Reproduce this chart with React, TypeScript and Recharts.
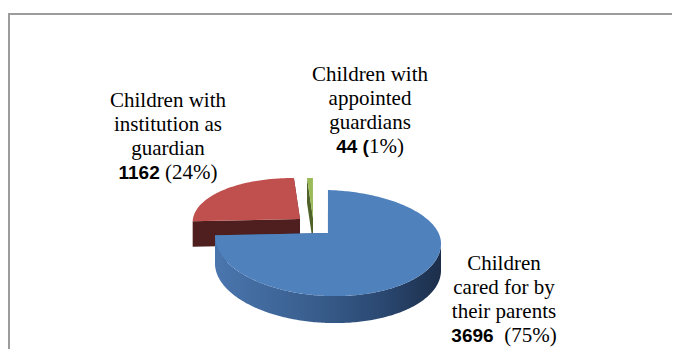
import React from "react";
import { PieChart, Pie } from "recharts";

// ---- data ----
const categories = [
  "Children with institution as guardian",
  "Children with appointed guardians",
  "Children cared for by their parents",
];
const counts = [1162, 44, 3696];
const percentLabels = ["24%", "1%", "75%"];
const labelLines = [
  ["Children with", "institution as", "guardian"],
  ["Children with", "appointed", "guardians"],
  ["Children", "cared for by", "their parents"],
];

const pieData = categories.map((name, i) => ({ name, value: counts[i] }));

// ---- styles ----
const SLICE_STYLE = [
  { top: "#c0504d", side: "#4f1e1e", cut: "#4f1e1e", dx: -28, dy: -14, s: 0.95 },
  { top: "#9bbb59", side: "#4f6228", cut: "#4f6228", dx: -15, dy: -15, s: 0.93 },
  { top: "#4f81bd", side: "url(#blueSide)", cut: "#34578a", dx: 0, dy: 0, s: 1 },
];
const RY_TOP = 50 / 113;
const RY_BOT = 56 / 113;
const DROP_BASE = 7;
const DROP_TILT = 3.5;
const DEPTH = 27;

const LABEL_POS = [
  { left: 60, top: 80 },
  { left: 262, top: 54 },
  { left: 396, top: 243 },
];

const rimPoint = (ax: number, ay: number, r: number, s: number, deg: number, depth: number) => {
  const t = (deg * Math.PI) / 180;
  const sn = Math.sin(t);
  const cs = Math.cos(t);
  const ry = (sn > 0 ? RY_TOP : RY_BOT) * r * s;
  return [ax + r * s * cs, ay + (DROP_BASE + DROP_TILT * cs) * s - ry * sn + depth * s];
};

const arcPts = (ax: number, ay: number, r: number, s: number, a1: number, a2: number, depth: number) => {
  const n = Math.max(2, Math.ceil(Math.abs(a2 - a1)));
  const pts: number[][] = [];
  for (let k = 0; k <= n; k++) {
    pts.push(rimPoint(ax, ay, r, s, a1 + ((a2 - a1) * k) / n, depth));
  }
  return pts;
};

const toPath = (pts: number[][]) =>
  pts.map((p, i) => `${i === 0 ? "M" : "L"}${p[0].toFixed(2)},${p[1].toFixed(2)}`).join(" ") + " Z";

const render3D = (props: any) => {
  const { cx, cy, outerRadius, startAngle, endAngle, index } = props;
  const st = SLICE_STYLE[index];
  const r = outerRadius;
  const s = st.s;
  const ax = cx + st.dx;
  const ay = cy + st.dy;
  const lo = Math.min(startAngle, endAngle);
  const hi = Math.max(startAngle, endAngle);

  const cuts = [startAngle, endAngle].map((a: number, k: number) => {
    const r0 = rimPoint(ax, ay, r, s, a, 0);
    const r1 = rimPoint(ax, ay, r, s, a, DEPTH);
    const pts = [[ax, ay], r0, r1, [ax, ay + DEPTH * s]];
    return <path key={`cut${k}`} d={toPath(pts)} fill={st.cut} stroke="none" />;
  });

  const windows = [
    [-180, 0],
    [180, 360],
    [-540, -360],
  ];
  const bands: any[] = [];
  windows.forEach((w, k) => {
    const a = Math.max(lo, w[0]);
    const e = Math.min(hi, w[1]);
    if (e > a) {
      const topArc = arcPts(ax, ay, r, s, a, e, 0);
      const botArc = arcPts(ax, ay, r, s, e, a, DEPTH);
      bands.push(<path key={`band${k}`} d={toPath([...topArc, ...botArc])} fill={st.side} stroke="none" />);
    }
  });

  const face = toPath([[ax, ay], ...arcPts(ax, ay, r, s, startAngle, endAngle, 0)]);

  return (
    <g key={`slice-${index}`}>
      {index === 2 && (
        <defs>
          <linearGradient id="blueSide" gradientUnits="userSpaceOnUse" x1={ax - r} y1={0} x2={ax + r} y2={0}>
            <stop offset="0" stopColor="#4a76ae" />
            <stop offset="0.45" stopColor="#385d8c" />
            <stop offset="0.75" stopColor="#2a4770" />
            <stop offset="1" stopColor="#1c2e4a" />
          </linearGradient>
        </defs>
      )}
      {cuts}
      {bands}
      <path d={face} fill={st.top} stroke="none" />
    </g>
  );
};

const serif = '"Liberation Serif"';
const sansBold = '"Liberation Sans"';
const lineStyle = { fontFamily: serif, fontSize: 21, fontWeight: 400 };
const boldStyle = { fontFamily: sansBold, fontWeight: 700, fontSize: 19 };

const numberLine = (i: number) => {
  const c = String(counts[i]);
  const p = percentLabels[i];
  if (i === 1)
    return (
      <>
        <span style={boldStyle}>{c} (</span>
        <span style={lineStyle}>{p})</span>
      </>
    );
  if (i === 2)
    return (
      <>
        <span style={boldStyle}>{c}</span>
        <span style={lineStyle}>{"  (" + p + ")"}</span>
      </>
    );
  return (
    <>
      <span style={boldStyle}>{c}</span>
      <span style={lineStyle}>{" (" + p + ")"}</span>
    </>
  );
};

export default function App() {
  return (
    <div style={{ position: "relative", width: 672, height: 341, overflow: "hidden", background: "#fff" }}>
      <div
        style={{
          position: "absolute",
          left: 0,
          top: 5,
          width: 800,
          height: 600,
          border: "2px solid #9c9c9c",
          boxSizing: "border-box",
        }}
      />
      <div style={{ position: "absolute", left: 0, top: 0 }}>
        <PieChart width={672} height={341} margin={{ top: 0, right: 0, bottom: 0, left: 0 }}>
          <Pie
            data={pieData}
            dataKey="value"
            nameKey="name"
            cx={320}
            cy={225}
            innerRadius={0}
            outerRadius={113}
            startAngle={178.6}
            endAngle={-181.4}
            fill="none"
            stroke="none"
            label={render3D}
            labelLine={false}
            isAnimationActive={false}
          />
        </PieChart>
      </div>
      {labelLines.map((lines, i) => (
        <div
          key={i}
          style={{
            position: "absolute",
            left: LABEL_POS[i].left,
            top: LABEL_POS[i].top,
            width: 200,
            textAlign: "center",
            fontFamily: serif,
            fontSize: 21,
            lineHeight: "24px",
            color: "#000",
            whiteSpace: "pre",
          }}
        >
          {lines.map((l, k) => (
            <div key={k} style={lineStyle}>
              {l}
            </div>
          ))}
          <div style={lineStyle}>{numberLine(i)}</div>
        </div>
      ))}
    </div>
  );
}
